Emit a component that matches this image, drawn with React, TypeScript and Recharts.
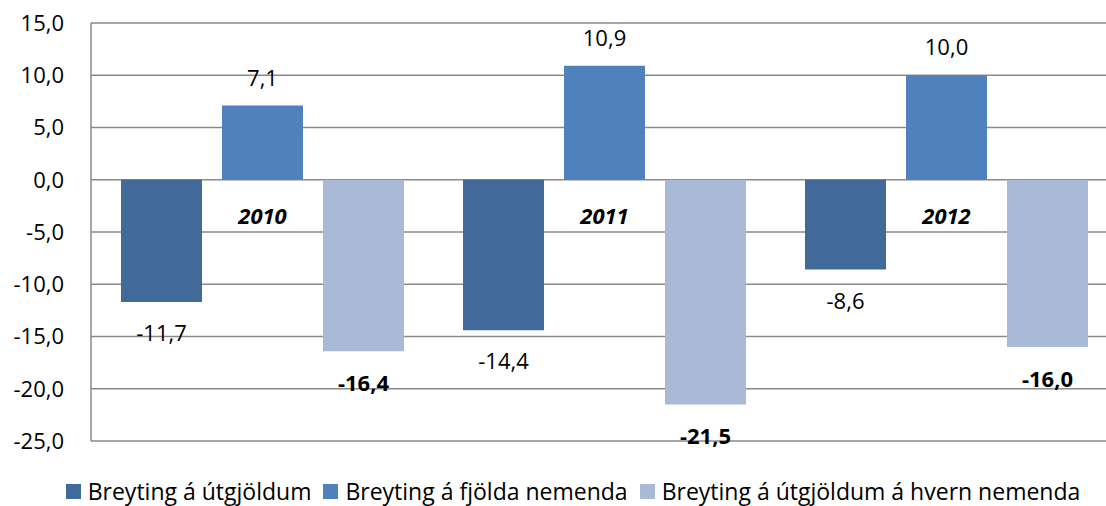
import React from 'react';
import { BarChart, Bar, XAxis, YAxis, CartesianGrid, LabelList, Legend } from 'recharts';

const years = ['2010', '2011', '2012'];
const expenseChange = [-11.7, -14.4, -8.6];
const studentChange = [7.1, 10.9, 10.0];
const perStudentChange = [-16.4, -21.5, -16.0];
const yTicks = [-25, -20, -15, -10, -5, 0, 5, 10, 15];
const seriesNames = [
  'Breyting á útgjöldum',
  'Breyting á fjölda nemenda',
  'Breyting á útgjöldum á hvern nemenda',
];
const colors = ['#416A9B', '#4F81BD', '#AAB9D8'];

const data = years.map((year, i) => ({
  year,
  a: expenseChange[i],
  b: studentChange[i],
  c: perStudentChange[i],
}));

const fmt = (v: number) => v.toFixed(1).replace('.', ',');
const FONT = '"Open Sans", sans-serif';
const FS = 22;

const makeValueLabel = (bold: boolean, gap: number) => (props: any) => {
  const { x, y, width, height, value } = props;
  const top = Math.min(y, y + height);
  const bottom = Math.max(y, y + height);
  const v = Number(value);
  const cy = v >= 0 ? top - gap : bottom + gap;
  return (
    <text
      x={x + width / 2}
      y={cy}
      textAnchor="middle"
      dominantBaseline="central"
      fontFamily={FONT}
      fontSize={FS}
      fontWeight={bold ? 700 : 400}
      fill="#000"
    >
      {fmt(v)}
    </text>
  );
};

const CategoryLabel = (props: any) => {
  const { x, y, width, height, value } = props;
  const base = Math.max(y, y + height);
  return (
    <text
      x={x + width / 2}
      y={base + 35}
      textAnchor="middle"
      dominantBaseline="central"
      fontFamily={FONT}
      fontSize={FS}
      fontWeight={700}
      fontStyle="italic"
      fill="#000"
    >
      {value}
    </text>
  );
};

const LegendContent = (props: any) => {
  const payload = [...(props.payload || [])].sort(
    (p: any, q: any) => seriesNames.indexOf(p.value) - seriesNames.indexOf(q.value)
  );
  return (
    <div style={{ display: 'flex', justifyContent: 'center', fontFamily: FONT, fontSize: 23, color: '#000', whiteSpace: 'nowrap' }}>
      {payload.map((p: any, i: number) => (
        <span key={p.value} style={{ display: 'flex', alignItems: 'center', marginRight: i < payload.length - 1 ? 12 : 0 }}>
          <span style={{ width: 15, height: 15, background: p.color, marginRight: 7, display: 'inline-block' }} />
          {p.value}
        </span>
      ))}
    </div>
  );
};

export default function App() {
  return (
    <div style={{ position: 'fixed', left: 0, top: 0, width: 1106, height: 506, overflow: 'hidden', background: '#fff' }}>
      <BarChart
        width={1117}
        height={506}
        data={data}
        margin={{ top: 23, right: 0, left: 0, bottom: 65 }}
        barCategoryGap={30}
        barGap={20}
      >
        <CartesianGrid horizontal vertical={false} stroke="#8a8a8a" strokeWidth={1.5} />
        <XAxis dataKey="year" hide />
        <YAxis
          width={91}
          domain={[-25, 15]}
          ticks={yTicks}
          tickFormatter={fmt}
          tickSize={0}
          tickMargin={27}
          axisLine={{ stroke: '#8a8a8a', strokeWidth: 1.5 }}
          tick={{ fontFamily: FONT, fontSize: FS, fill: '#000' }}
          interval={0}
        />
        <Legend
          verticalAlign="middle"
          align="center"
          layout="horizontal"
          content={<LegendContent />}
          wrapperStyle={{ left: 0, width: 1146, top: 475 }}
        />
        <Bar dataKey="a" name={seriesNames[0]} fill={colors[0]} isAnimationActive={false}>
          <LabelList dataKey="a" content={makeValueLabel(false, 30)} />
        </Bar>
        <Bar dataKey="b" name={seriesNames[1]} fill={colors[1]} isAnimationActive={false}>
          <LabelList dataKey="b" content={makeValueLabel(false, 29)} />
          <LabelList dataKey="year" content={<CategoryLabel />} />
        </Bar>
        <Bar dataKey="c" name={seriesNames[2]} fill={colors[2]} isAnimationActive={false}>
          <LabelList dataKey="c" content={makeValueLabel(true, 31)} />
        </Bar>
      </BarChart>
    </div>
  );
}
